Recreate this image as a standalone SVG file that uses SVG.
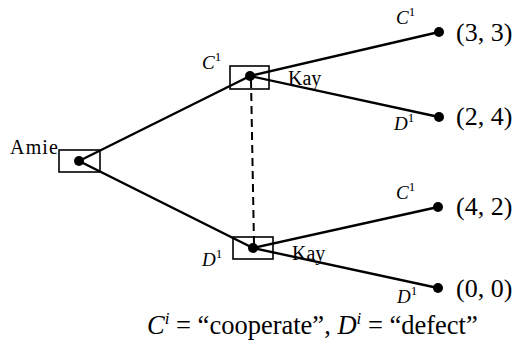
<svg xmlns="http://www.w3.org/2000/svg" width="525" height="343" viewBox="0 0 525 343">
<style>
.e{stroke:#000;stroke-width:2.4;fill:none}
.box{stroke:#000;stroke-width:1.6;fill:none}
.t{font-family:"Liberation Serif",serif;fill:#000}
.lab{font-size:20px}
.it{font-style:italic;font-size:19px}
.sup{font-size:13px;font-style:normal}
.pay{font-size:26px}
</style>
<rect width="525" height="343" fill="#fff"/>
<g id="connectors">
<line class="e" x1="79" y1="161" x2="250" y2="76"/>
<line class="e" x1="79" y1="161" x2="253" y2="248"/>
<line class="e" x1="250" y1="76" x2="439" y2="32"/>
<line class="e" x1="250" y1="76" x2="439" y2="117"/>
<line class="e" x1="253" y1="248" x2="438" y2="207"/>
<line class="e" x1="253" y1="248" x2="438" y2="288"/>
<line x1="251" y1="80" x2="254" y2="244" stroke="#000" stroke-width="2" stroke-dasharray="8,5"/>
</g>
<g id="amie">
<rect class="box" x="59" y="150" width="41" height="22"/>
<circle cx="79" cy="161" r="5"/>
<text class="t lab" x="10" y="154" textLength="48">Amie</text>
</g>
<g id="kay-top">
<rect class="box" x="230" y="66" width="39" height="23"/>
<circle cx="250" cy="76" r="5"/>
<text class="t lab" x="288" y="85">Kay</text>
<text class="t it" x="202" y="69">C<tspan class="sup" dy="-8">1</tspan></text>
</g>
<g id="kay-bottom">
<rect class="box" x="233" y="237" width="40" height="22"/>
<circle cx="253" cy="248" r="5"/>
<text class="t lab" x="292" y="260">Kay</text>
<text class="t it" x="202" y="266">D<tspan class="sup" dy="-8">1</tspan></text>
</g>
<g id="t1">
<circle cx="439" cy="32" r="5"/>
<text class="t it" x="396" y="24">C<tspan class="sup" dy="-8">1</tspan></text>
<text class="t pay" x="456" y="41">(3, 3)</text>
</g>
<g id="t2">
<circle cx="439" cy="117" r="5"/>
<text class="t it" x="394" y="130">D<tspan class="sup" dy="-8">1</tspan></text>
<text class="t pay" x="456" y="125">(2, 4)</text>
</g>
<g id="t3">
<circle cx="438" cy="207" r="5"/>
<text class="t it" x="396" y="199">C<tspan class="sup" dy="-8">1</tspan></text>
<text class="t pay" x="456" y="215">(4, 2)</text>
</g>
<g id="t4">
<circle cx="438" cy="288" r="5"/>
<text class="t it" x="397" y="303">D<tspan class="sup" dy="-8">1</tspan></text>
<text class="t pay" x="456" y="297">(0, 0)</text>
</g>
<text class="t" x="147" y="334" font-size="26.5"><tspan font-style="italic">C</tspan><tspan font-size="17" font-style="italic" dy="-10">i</tspan><tspan dy="10"> = “cooperate”, </tspan><tspan font-style="italic">D</tspan><tspan font-size="17" font-style="italic" dy="-10">i</tspan><tspan dy="10"> = “defect”</tspan></text>
</svg>
